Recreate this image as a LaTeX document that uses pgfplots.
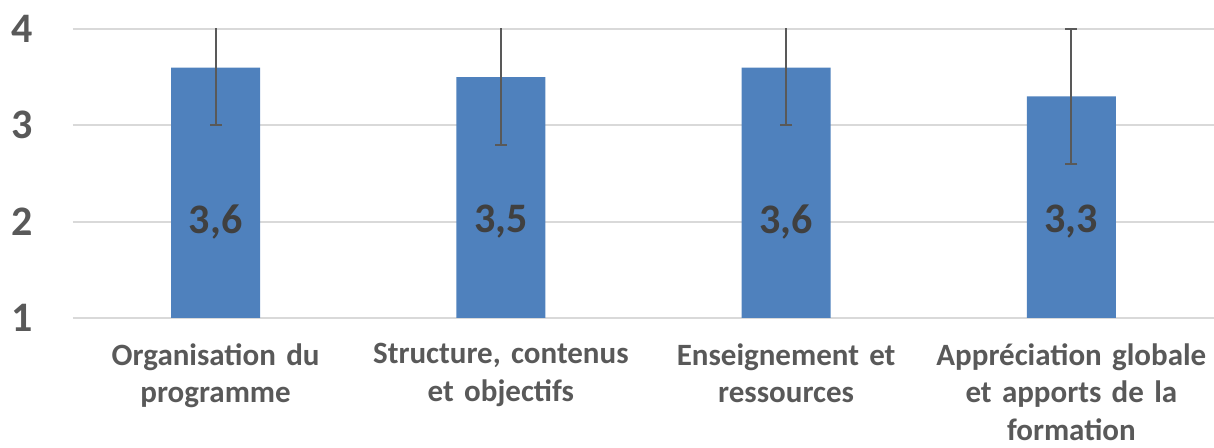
\documentclass[border=0pt]{standalone}
\usepackage{pgfplots}
\pgfplotsset{compat=1.18}
\usepackage{fontspec}
\setmainfont{Carlito}
\frenchspacing
\definecolor{barblue}{HTML}{4F81BD}
\definecolor{txtgray}{HTML}{595959}
\definecolor{lblgray}{HTML}{404040}
\definecolor{gridgray}{HTML}{D9D9D9}
\definecolor{errgray}{HTML}{595959}
\begin{document}
\begin{tikzpicture}
\begin{axis}[
  scale only axis, width=570.5pt, height=144.5pt,
  xmin=-0.5, xmax=3.5, ymin=1, ymax=4,
  xtick={0,1,2,3},
  xticklabels={{Organisation du\\programme},{Structure, contenus\\et objectifs},{Enseignement et\\ressources},{Appréciation globale\\et apports de la\\formation}},
  ytick={1,2,3,4},
  ymajorgrids, grid style={gridgray, line width=1pt},
  axis line style={draw=none},
  major tick length=0pt,
  /pgf/number format/assume math mode=true,
  xticklabel style={text width=150pt, align=center, font=\bfseries\frenchspacing\fontsize{15.5}{18.75}\selectfont, text=txtgray, inner sep=0pt},
  xticklabel shift=12.5pt,
  yticklabel style={font=\bfseries\fontsize{21}{25}\selectfont, text=txtgray, inner sep=0pt},
  yticklabel shift=20pt,
]
\addplot[ybar, bar width=44.5pt, fill=barblue, draw=none,
  error bars/.cd, y dir=both, y explicit,
  error bar style={errgray, line width=1pt},
  error mark options={rotate=90, errgray, mark size=3pt, line width=1pt}]
  coordinates {(0,3.6) +- (0,0.6) (1,3.5) +- (0,0.7) (2,3.6) +- (0,0.6) (3,3.3) +- (0,0.7)};
\addplot[draw=none, mark=none, nodes near coords, point meta=explicit,
  nodes near coords align=center,
  every node near coord/.append style={font=\bfseries\fontsize{21}{25}\selectfont, text=lblgray, /pgf/number format/use comma, /pgf/number format/fixed, /pgf/number format/fixed zerofill, /pgf/number format/precision=1}]
  coordinates {(0,2) [3.6] (1,2) [3.5] (2,2) [3.6] (3,2) [3.3]};
\end{axis}
\pgfresetboundingbox
\path ([shift={(-36.5pt,-65pt)}]current axis.south west) rectangle ([shift={(0pt,14.5pt)}]current axis.north east);
\end{tikzpicture}
\end{document}
